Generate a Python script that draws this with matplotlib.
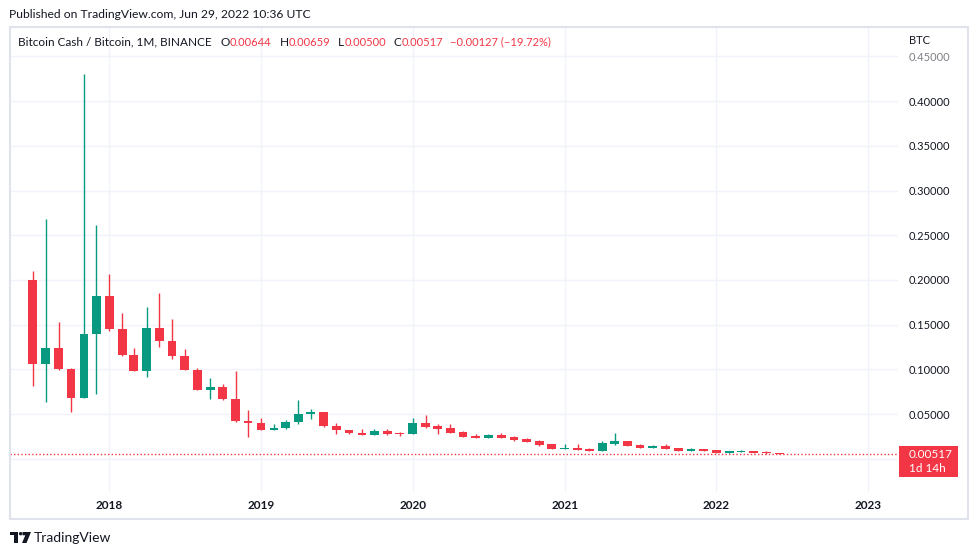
import matplotlib
matplotlib.use('Agg')
import matplotlib.pyplot as plt
import matplotlib.dates as mdates
from matplotlib.patches import Rectangle, Polygon, Circle
from matplotlib.transforms import IdentityTransform
import numpy as np
import pandas as pd

plt.rcParams['font.family'] = ['Lato', 'DejaVu Sans']

# monthly candles BCH/BTC (Binance), Jul 2017 .. Jun 2022
months = pd.date_range('2017-07-01', periods=60, freq='MS')
opens = [0.2000, 0.1060, 0.1240, 0.1000, 0.0680, 0.1395, 0.1820, 0.1454, 0.1163, 0.0984,
         0.1462, 0.1320, 0.1152, 0.0996, 0.0772, 0.0800, 0.0668, 0.0425, 0.0403, 0.0325,
         0.0343, 0.0410, 0.0500, 0.0522, 0.0366, 0.0321, 0.0287, 0.0265, 0.0310, 0.0290,
         0.0276, 0.0400, 0.0366, 0.0343, 0.0299, 0.0254, 0.0232, 0.0265, 0.0243, 0.0220,
         0.0198, 0.0164, 0.0109, 0.0120, 0.0109, 0.0086, 0.0164, 0.0198, 0.0153, 0.0120,
         0.0142, 0.0120, 0.0086, 0.0109, 0.0097, 0.0064, 0.0080, 0.0086, 0.0075, 0.00644]
highs = [0.2103, 0.2680, 0.1530, 0.1010, 0.4300, 0.2614, 0.2066, 0.1630, 0.1238, 0.1697,
         0.1853, 0.1563, 0.1227, 0.1015, 0.0903, 0.0839, 0.0980, 0.0545, 0.0455, 0.0388,
         0.0433, 0.0657, 0.0556, 0.0525, 0.0400, 0.0325, 0.0332, 0.0332, 0.0332, 0.0302,
         0.0455, 0.0489, 0.0388, 0.0388, 0.0305, 0.0276, 0.0276, 0.0287, 0.0250, 0.0232,
         0.0209, 0.0166, 0.0164, 0.0164, 0.0120, 0.0198, 0.0287, 0.0200, 0.0164, 0.0153,
         0.0164, 0.0122, 0.0120, 0.0111, 0.0099, 0.0088, 0.0097, 0.0088, 0.0086, 0.00659]
lows = [0.0817, 0.0638, 0.0995, 0.0526, 0.0680, 0.0727, 0.1432, 0.1149, 0.0984, 0.0917,
        0.1253, 0.1119, 0.0996, 0.0772, 0.0671, 0.0657, 0.0415, 0.0246, 0.0320, 0.0320,
        0.0336, 0.0388, 0.0444, 0.0355, 0.0276, 0.0276, 0.0260, 0.0262, 0.0265, 0.0257,
        0.0272, 0.0343, 0.0276, 0.0285, 0.0240, 0.0230, 0.0230, 0.0230, 0.0198, 0.0185,
        0.0142, 0.0105, 0.0105, 0.0095, 0.0084, 0.0084, 0.0153, 0.0140, 0.0118, 0.0118,
        0.0107, 0.0084, 0.0084, 0.0084, 0.0062, 0.0062, 0.0074, 0.0062, 0.0052, 0.00500]
closes = [0.1056, 0.1238, 0.1000, 0.0680, 0.1395, 0.1820, 0.1454, 0.1163, 0.0984, 0.1462,
          0.1320, 0.1152, 0.0996, 0.0772, 0.0800, 0.0668, 0.0425, 0.0403, 0.0325, 0.0343,
          0.0410, 0.0500, 0.0522, 0.0366, 0.0321, 0.0287, 0.0265, 0.0310, 0.0276, 0.0280,
          0.0400, 0.0355, 0.0332, 0.0287, 0.0243, 0.0232, 0.0265, 0.0232, 0.0209, 0.0187,
          0.0153, 0.0109, 0.0120, 0.0097, 0.0086, 0.0176, 0.0198, 0.0142, 0.0120, 0.0142,
          0.0109, 0.0086, 0.0109, 0.0086, 0.0064, 0.0086, 0.0086, 0.0064, 0.00644, 0.00517]

year_labels = ['2018', '2019', '2020', '2021', '2022', '2023']
price_ticks = [0.0, 0.05, 0.10, 0.15, 0.20, 0.25, 0.30, 0.35, 0.40, 0.45]

legend_parts = [('Bitcoin Cash / Bitcoin, 1M, BINANCE', 'k', 0),
                ('O', 'k', 9), ('0.00644', 'r', 0),
                ('H', 'k', 8), ('0.00659', 'r', 0),
                ('L', 'k', 8), ('0.00500', 'r', 0),
                ('C', 'k', 8), ('0.00517', 'r', 0),
                ('\u22120.00127 (\u221219.72%)', 'r', 7)]

RED = '#F23645'
GREEN = '#089981'
TEXT = '#131722'
GRID = '#F0F3FA'

W, H = 979, 555
fig = plt.figure(figsize=(W / 100, H / 100), dpi=100)
fig.patch.set_facecolor('white')


def fx(px):
    return px / W


def fy(py):
    return 1 - py / H


ax = fig.add_axes([fx(10), fy(492), fx(898) - fx(10), fy(27) - fy(492)])

x = mdates.date2num(months)
o = np.array(opens)
h = np.array(highs)
l = np.array(lows)
c = np.array(closes)
colors = np.where(c >= o, GREEN, RED)

ax.vlines(x, l, h, colors=colors, lw=1, zorder=3)
body_lo = np.minimum(o, c)
body_h = np.maximum(np.abs(c - o), 0.0009)
ax.bar(x, body_h, bottom=body_lo, width=21, color=colors, linewidth=0, zorder=4)

ax.set_xlim(mdates.date2num(pd.Timestamp('2017-05-07')),
            mdates.date2num(pd.Timestamp('2023-03-14')))
ax.set_ylim(-0.0372, 0.4829)

# last price line
ax.axhline(closes[-1], color=RED, lw=1, ls=(0, (1, 1.6)), zorder=2)

# axes styling
for s in ax.spines.values():
    s.set_visible(False)
ax.yaxis.tick_right()
ax.set_yticks(price_ticks, labels=['' if v == 0 else '%.5f' % v for v in price_ticks])
ax.get_yticklabels()[-1].set_alpha(0.55)
ax.tick_params(axis='y', length=0, pad=8, labelsize=8, labelcolor=TEXT)

year_pos = mdates.date2num(pd.to_datetime([y + '-01-01' for y in year_labels]))
ax.set_xticks(year_pos, labels=year_labels)
for t in ax.get_xticklabels():
    t.set_fontweight('bold')
ax.tick_params(axis='x', length=0, pad=6, labelsize=8.5, labelcolor=TEXT)
ax.grid(True, color=GRID, lw=1, zorder=0)
ax.set_axisbelow(True)

# outer frame
fig.add_artist(Rectangle((fx(10), fy(519)), fx(968) - fx(10), fy(27) - fy(519),
                         transform=fig.transFigure, fill=False,
                         edgecolor='#E0E3EB', lw=1.5))

fig.text(fx(9), fy(14), 'Published on TradingView.com, Jun 29, 2022 10:36 UTC',
         fontsize=8.7, color=TEXT, va='center')
fig.text(fx(909), fy(40), 'BTC', fontsize=8, color=TEXT, va='center')

# legend row
renderer = fig.canvas.get_renderer()
cur = 18
for txt, col, gap in legend_parts:
    cur += gap
    t = fig.text(fx(cur), fy(42), txt, va='center',
                 fontsize=8.5 if col == 'k' else 8,
                 color=TEXT if col == 'k' else RED)
    cur = t.get_window_extent(renderer).x1

# last price box
cy = ax.transData.transform((x[-1], closes[-1]))[1]
fig.add_artist(Rectangle((898.5, cy - 23), 59.5, 31, transform=IdentityTransform(),
                         facecolor=RED, edgecolor='none'))
fig.text(fx(909), cy / H, '%.5f' % closes[-1], fontsize=8.5, color='white', va='center')
fig.text(fx(909), (cy - 14) / H, '1d 14h', fontsize=8.5, color='white', va='center')

# TradingView logo
t_shape = [(10, 532), (18.3, 532), (18.3, 543), (14, 543), (14, 535.3), (10, 535.3)]
v_shape = [(22.5, 532), (31, 532), (26.5, 543), (22, 543), (25.3, 535.3), (22.5, 535.3)]
for shape in (t_shape, v_shape):
    fig.add_artist(Polygon([(fx(a), fy(b)) for a, b in shape],
                           transform=fig.transFigure, color=TEXT, lw=0))
fig.add_artist(Circle((20.6, H - 533.7), 1.7, transform=IdentityTransform(),
                      color=TEXT, lw=0))
fig.text(fx(34), fy(538), 'TradingView', fontsize=10, color=TEXT, va='center')

fig.savefig('out.png', dpi=100)
